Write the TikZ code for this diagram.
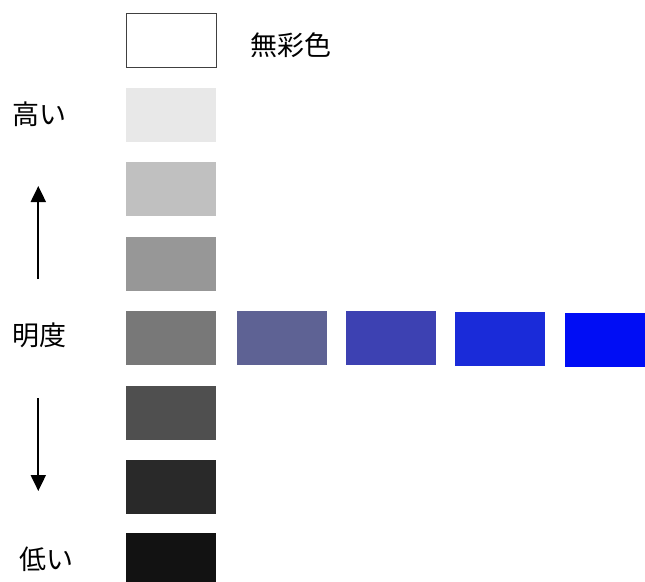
\documentclass[tikz,border=0pt]{standalone}
\usepackage{fontspec}
\newfontfamily\jp{Noto Sans CJK JP}
\usetikzlibrary{arrows.meta}
\definecolor{g1}{HTML}{E8E8E8}
\definecolor{g2}{HTML}{C0C0C0}
\definecolor{g3}{HTML}{979797}
\definecolor{g4}{HTML}{787878}
\definecolor{g5}{HTML}{4F4F4F}
\definecolor{g6}{HTML}{292929}
\definecolor{g7}{HTML}{121212}
\definecolor{b1}{HTML}{5E6294}
\definecolor{b2}{HTML}{3D41B2}
\definecolor{b3}{HTML}{1A2BD9}
\definecolor{b4}{HTML}{000DF5}
\tikzset{
  swatch/.style={rectangle, inner sep=0pt, minimum width=90pt, minimum height=54pt, fill=#1},
  lbl/.style={inner sep=0pt, font=\jp\fontsize{27pt}{32pt}\selectfont},
  arr/.style={line width=2pt, -{Triangle[width=15pt,length=16pt]}}
}
\begin{document}
\begin{tikzpicture}[x=1pt,y=-1pt]
\useasboundingbox (0,0) rectangle (645,581);
\node[swatch=white, draw=black!75, line width=1pt] (s0) at (171,40.5) {};
\node[swatch=g1] (s1) at (171,115) {};
\node[swatch=g2] (s2) at (171,189) {};
\node[swatch=g3] (s3) at (171,264) {};
\node[swatch=g4] (s4) at (171,338) {};
\node[swatch=g5] (s5) at (171,412.5) {};
\node[swatch=g6] (s6) at (171,487) {};
\node[swatch=g7] (s7) at (171,560) {};
\node[swatch=b1] (c1) at (281.5,338) {};
\node[swatch=b2] (c2) at (390.5,338) {};
\node[swatch=b3] (c3) at (499.5,339) {};
\node[swatch=b4] (c4) at (610,339.5) {};
\node[lbl, anchor=west] (achro) at (250,45.5) {無彩色};
\node[lbl, anchor=west] (high) at (12,114) {高い};
\node[lbl, anchor=west] (mei) at (12,335) {明度};
\node[lbl, anchor=west] (low) at (19.5,559) {低い};
\coordinate (u0) at (38.3,279);
\coordinate (u1) at (38.3,186);
\coordinate (d0) at (38.3,398);
\coordinate (d1) at (38.3,491);
\draw[arr] (u0) -- (u1);
\draw[arr] (d0) -- (d1);
\end{tikzpicture}
\end{document}
